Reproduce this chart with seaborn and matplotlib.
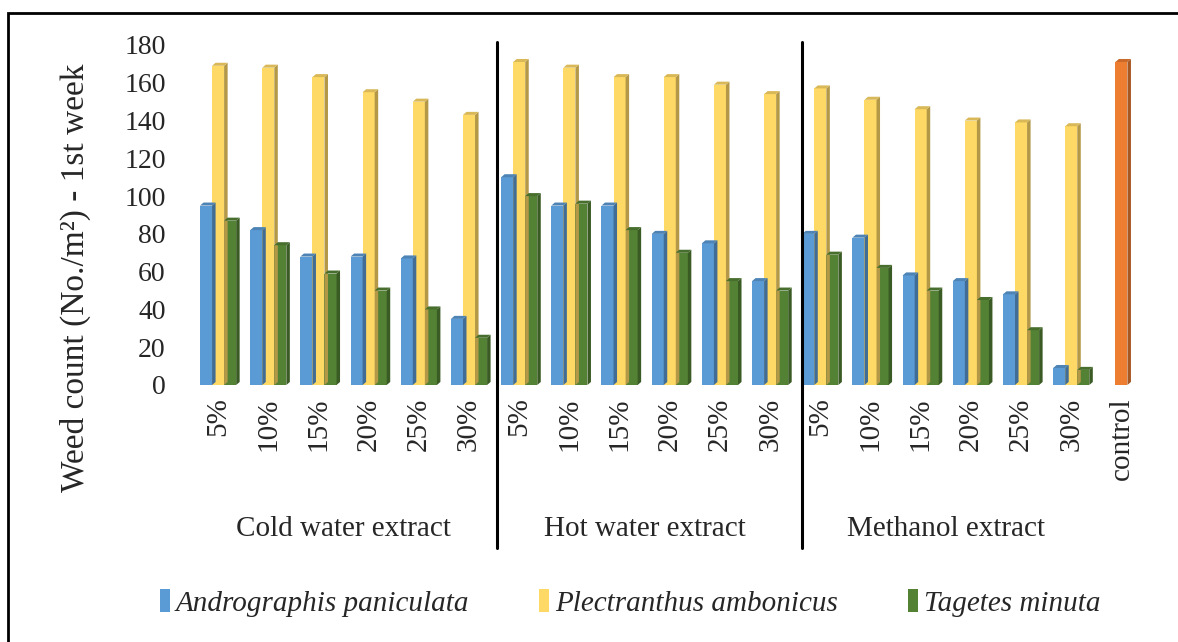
import numpy as np
import pandas as pd
import seaborn as sns
import matplotlib.pyplot as plt
from matplotlib.patches import Polygon, Patch, Rectangle
from matplotlib.colors import to_rgb
import matplotlib.transforms as mtransforms

# data
concs = ["5%", "10%", "15%", "20%", "25%", "30%"]
extracts = ["Cold water extract", "Hot water extract", "Methanol extract"]
species = ["Andrographis paniculata", "Plectranthus ambonicus", "Tagetes minuta"]

andro = [95, 82, 68, 68, 67, 35,
         110, 95, 95, 80, 75, 55,
         80, 78, 58, 55, 48, 9]
plect = [169, 168, 163, 155, 150, 143,
         171, 168, 163, 163, 159, 154,
         157, 151, 146, 140, 139, 137]
tagetes = [87, 74, 59, 50, 40, 25,
           100, 96, 82, 70, 55, 50,
           69, 62, 50, 45, 29, 8]
control_value = 171

colors = ["#5B9BD5", "#FFD966", "#548235"]
control_color = "#ED7D31"

# long-form table, categories made unique per extract
cat_ids = [f"{e}|{c}" for e in extracts for c in concs] + ["control"]
rows = []
for i, cid in enumerate(cat_ids[:-1]):
    rows.append((cid, species[0], andro[i]))
    rows.append((cid, species[1], plect[i]))
    rows.append((cid, species[2], tagetes[i]))
rows.append(("control", species[1], control_value))
df = pd.DataFrame(rows, columns=["cat", "species", "count"])

sns.set_theme(style="white")
plt.rcParams["font.family"] = ["Liberation Serif", "DejaVu Serif"]

fig = plt.figure(figsize=(11.78, 6.42), dpi=100)
ax = fig.add_axes([195 / 1178, 1 - 385 / 642, 950 / 1178, 340 / 642])

sns.barplot(data=df, x="cat", y="count", hue="species", order=cat_ids,
            hue_order=species, palette=colors, width=0.72, saturation=1,
            linewidth=0, ax=ax, legend=False)

# colour the control bar and add a simple 3D side/top face to each bar
dx, dy = 0.07, 1.6
for p in list(ax.patches):
    x0 = p.get_x()
    w = p.get_width()
    h = p.get_height()
    if np.isnan(h) or h == 0:
        continue
    if abs(x0 + w / 2 - (len(cat_ids) - 1)) < 0.05:
        p.set_facecolor(control_color)
    base = np.array(to_rgb(p.get_facecolor()))
    x1 = x0 + w
    side = Polygon([(x1, 0), (x1 + dx, dy), (x1 + dx, h + dy), (x1, h)],
                   closed=True, facecolor=base * 0.7, edgecolor="none", zorder=p.get_zorder())
    top = Polygon([(x0, h), (x1, h), (x1 + dx, h + dy), (x0 + dx, h + dy)],
                  closed=True, facecolor=base * 0.85, edgecolor="none", zorder=p.get_zorder())
    ax.add_patch(side)
    ax.add_patch(top)

ax.set_ylim(0, 180)
ax.set_yticks(range(0, 181, 20))
ax.set_xlim(-0.46, len(cat_ids) - 1 + 0.47)
ax.set_xticks(range(len(cat_ids)))
ax.set_xticklabels(concs * 3 + ["control"], rotation=90, va="top", fontsize=21)
ax.tick_params(axis="x", length=0, pad=9)
ax.tick_params(axis="y", length=0, pad=21, labelsize=20)
for lab in ax.get_yticklabels():
    lab.set_horizontalalignment("right")
ax.set_xlabel("")
ax.set_ylabel("")
for s in ax.spines.values():
    s.set_visible(False)
ax.set_facecolor("none")

# group separators and group labels
trans = mtransforms.blended_transform_factory(ax.transData, ax.transAxes)
for xs in [5.56, 11.63]:
    ax.plot([xs, xs], [1.01, -0.48], color="black", lw=2.2, transform=trans, clip_on=False)
for k, name in enumerate(extracts):
    ax.text(k * 6 + 2.5, -0.425, name, transform=trans, ha="center", va="center", fontsize=21)

fig.text(75 / 1178, 0.568, "Weed count (No./m²) - 1st week", rotation=90,
         ha="center", va="center", fontsize=24)

handles = [Patch(facecolor=c, edgecolor="none") for c in colors]
fig.legend(handles, species, loc="center", bbox_to_anchor=(0.535, 0.061), ncol=3,
           frameon=False, prop={"family": "Liberation Serif", "style": "italic", "size": 21},
           handlelength=0.35, handleheight=0.85, handletextpad=0.2, columnspacing=2.4)

# outer border (only top and left edges fall inside the image)
fig.patches.append(Rectangle((8 / 1178, -0.05), 1.1, 1 - 13 / 642 + 0.05, transform=fig.transFigure,
                             fill=False, edgecolor="black", lw=2))

fig.savefig("out.png", dpi=100, facecolor="white")
